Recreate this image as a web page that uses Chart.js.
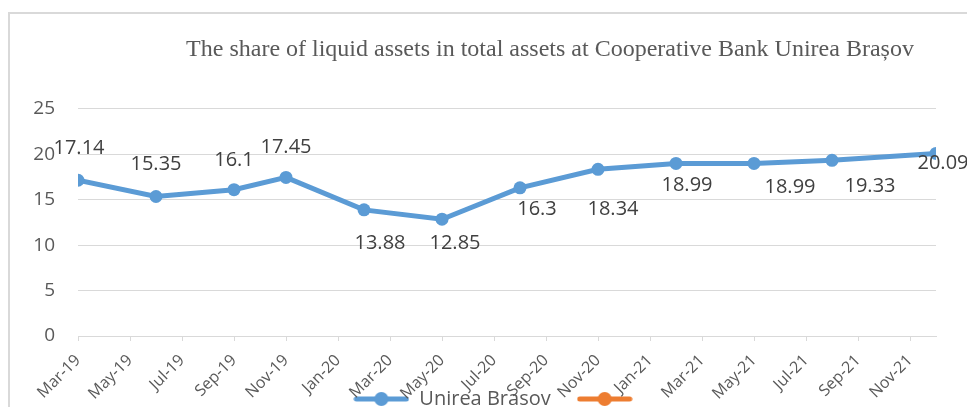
<!DOCTYPE html>
<html>
<head>
<meta charset="utf-8">
<script src="https://cdn.jsdelivr.net/npm/chart.js@4.4.0/dist/chart.umd.min.js"></script>
<style>
    html, body { margin: 0; padding: 0; background: #fff; overflow: hidden; }
    .frame {
        position: absolute; left: 8px; top: 12px;
        width: 990px; height: 450px;
        border: 2px solid #d9d9d9;
    }
    #liquidChart { position: absolute; left: 0; top: 0; }
</style>
</head>
<body>
<div class="frame"></div>
<canvas id="liquidChart" width="996" height="462"></canvas>
<script>
// data
const pointDates = ['Mar-19', 'Jun-19', 'Sep-19', 'Nov-19', 'Feb-20', 'May-20', 'Aug-20', 'Nov-20', 'Feb-21', 'May-21', 'Aug-21', 'Dec-21'];
const shareValues = [17.14, 15.35, 16.1, 17.45, 13.88, 12.85, 16.3, 18.34, 18.99, 18.99, 19.33, 20.09];
const tickLabels = ['Mar-19', 'May-19', 'Jul-19', 'Sep-19', 'Nov-19', 'Jan-20', 'Mar-20', 'May-20', 'Jul-20', 'Sep-20', 'Nov-20', 'Jan-21', 'Mar-21', 'May-21', 'Jul-21', 'Sep-21', 'Nov-21'];
const yTicks = [0, 5, 10, 15, 20, 25];
const seriesNames = ['Unirea Brasov', ''];

// label placement (px from the point), like the hand-moved labels in Excel
const labelOffsets = [[1, -33], [0, -33], [0, -31], [0, -31], [16, 32], [13, 23], [17, 20], [15, 39], [11, 21], [36, 23], [38, 25], [7, 9]];

const MONTHS = ['Jan', 'Feb', 'Mar', 'Apr', 'May', 'Jun', 'Jul', 'Aug', 'Sep', 'Oct', 'Nov', 'Dec'];
const monthIndex = s => {
    const [m, y] = s.split('-');
    return (parseInt(y, 10) - 19) * 12 + MONTHS.indexOf(m) - 2;
};
const tickByIndex = {};
tickLabels.forEach(t => { tickByIndex[monthIndex(t)] = t; });

const BLUE = '#5b9bd5';
const ORANGE = '#ed7d31';
const GRID = '#d9d9d9';
const TEXT = '#595959';

function legendMarker(color) {
    const c = document.createElement('canvas');
    c.width = 56; c.height = 16;
    const g = c.getContext('2d');
    g.strokeStyle = color; g.lineWidth = 5; g.lineCap = 'round';
    g.beginPath(); g.moveTo(3, 8); g.lineTo(53, 8); g.stroke();
    g.fillStyle = color;
    g.beginPath(); g.arc(28, 8, 7, 0, Math.PI * 2); g.fill();
    return c;
}
const markers = [legendMarker(BLUE), legendMarker(ORANGE)];

const valueLabels = {
    id: 'valueLabels',
    afterDatasetsDraw(chart) {
        const ctx = chart.ctx;
        const meta = chart.getDatasetMeta(0);
        ctx.save();
        ctx.font = '20px "Open Sans"';
        ctx.fillStyle = '#404040';
        ctx.textAlign = 'center';
        ctx.textBaseline = 'alphabetic';
        meta.data.forEach((pt, i) => {
            const [dx, dy] = labelOffsets[i];
            ctx.fillText(String(shareValues[i]), pt.x + dx, pt.y + dy + 7);
        });
        ctx.restore();
    }
};

// Excel had the title moved right and the legend pulled up over the axis labels
const nudgeBoxes = {
    id: 'nudgeBoxes',
    afterLayout(chart) {
        if (chart.titleBlock) {
            chart.titleBlock.left += 52;
            chart.titleBlock.right += 52;
        }
        if (chart.legend) {
            chart.legend.top -= 43;
            chart.legend.bottom -= 43;
        }
    }
};

new Chart(document.getElementById('liquidChart'), {
    type: 'line',
    data: {
        datasets: [{
            label: seriesNames[0],
            data: pointDates.map((d, i) => ({ x: monthIndex(d), y: shareValues[i] })),
            borderColor: BLUE,
            backgroundColor: BLUE,
            borderWidth: 5,
            pointRadius: 6.5,
            pointBorderWidth: 0,
            pointBackgroundColor: BLUE,
            tension: 0
        }, {
            label: seriesNames[1],
            data: [],
            borderColor: ORANGE,
            backgroundColor: ORANGE
        }]
    },
    options: {
        responsive: false,
        animation: false,
        layout: { padding: 0 },
        plugins: {
            title: {
                display: true,
                text: 'The share of liquid assets in total assets at Cooperative Bank Unirea Brașov',
                color: TEXT,
                font: { family: '"Liberation Serif", "Times New Roman", serif', size: 24, weight: 'normal', lineHeight: 1.2 },
                padding: { top: 35, bottom: 45 }
            },
            legend: {
                position: 'bottom',
                labels: {
                    usePointStyle: true,
                    pointStyleWidth: 56,
                    color: TEXT,
                    font: { family: '"Open Sans"', size: 20 },
                    padding: 26,
                    generateLabels(chart) {
                        const items = Chart.defaults.plugins.legend.labels.generateLabels(chart);
                        items.forEach((it, i) => { it.pointStyle = markers[i]; });
                        return items;
                    }
                }
            },
            tooltip: { enabled: false }
        },
        scales: {
            x: {
                type: 'linear',
                min: monthIndex(pointDates[0]),
                max: monthIndex(pointDates[pointDates.length - 1]),
                afterBuildTicks: scale => {
                    scale.ticks = tickLabels.map(t => ({ value: monthIndex(t) }));
                },
                afterFit: scale => { scale.height = 70; },
                ticks: {
                    autoSkip: false,
                    minRotation: 45,
                    maxRotation: 45,
                    padding: 10,
                    color: TEXT,
                    font: { family: '"Open Sans"', size: 16 },
                    callback: v => tickByIndex[v] || ''
                },
                grid: { drawOnChartArea: false, drawTicks: true, tickLength: 5, color: GRID },
                border: { color: GRID, width: 1 }
            },
            y: {
                min: yTicks[0],
                max: yTicks[yTicks.length - 1],
                afterBuildTicks: scale => {
                    scale.ticks = yTicks.map(v => ({ value: v }));
                },
                afterFit: scale => { scale.width = 78; },
                ticks: {
                    padding: 23,
                    color: TEXT,
                    font: { family: '"Open Sans"', size: 19 }
                },
                grid: { color: GRID, lineWidth: 1, drawTicks: false },
                border: { display: false }
            },
            // empty right-hand strip, keeps the plot narrower than the legend/title width
            yRight: {
                position: 'right',
                display: true,
                afterFit: scale => { scale.width = 60; },
                ticks: { display: false },
                grid: { display: false },
                border: { display: false }
            }
        }
    },
    plugins: [valueLabels, nudgeBoxes]
});
</script>
</body>
</html>
